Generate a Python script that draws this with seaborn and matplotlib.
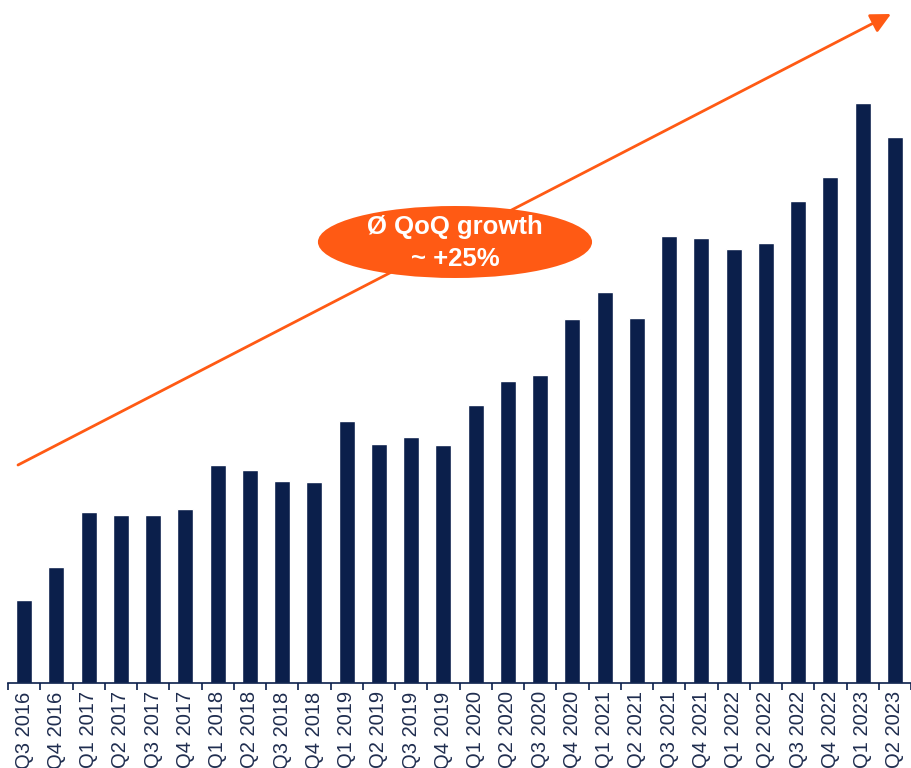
import matplotlib
matplotlib.use("Agg")
import matplotlib.pyplot as plt
from matplotlib.patches import Ellipse
import numpy as np
import pandas as pd
import seaborn as sns


# --------- Values --------- #
QUARTERS = ["Q3 2016", "Q4 2016",
            "Q1 2017", "Q2 2017", "Q3 2017", "Q4 2017",
            "Q1 2018", "Q2 2018", "Q3 2018", "Q4 2018",
            "Q1 2019", "Q2 2019", "Q3 2019", "Q4 2019",
            "Q1 2020", "Q2 2020", "Q3 2020", "Q4 2020",
            "Q1 2021", "Q2 2021", "Q3 2021", "Q4 2021",
            "Q1 2022", "Q2 2022", "Q3 2022", "Q4 2022",
            "Q1 2023", "Q2 2023"]
# relative volume (no axis in the original)
VALUES = [83, 116, 171, 168, 168, 174, 218, 213, 202, 201,
          262, 239, 246, 238, 278, 302, 308, 364, 391, 365,
          447, 445, 434, 440, 482, 506, 580, 546]

NAVY = "#0B1F4B"
ORANGE = "#FF5A14"

df = pd.DataFrame({"quarter": QUARTERS, "value": VALUES})

sns.set_style("white")
plt.rcParams["font.family"] = ["Liberation Sans", "DejaVu Sans"]

fig = plt.figure(figsize=(9.11, 7.68), dpi=100)
ax = fig.add_axes([8 / 911, 85 / 768, 1 - 8 / 911, 683 / 768])

sns.barplot(data=df, x="quarter", y="value", color=NAVY, width=0.5,
            saturation=1, ax=ax)

ax.set_xlim(-0.5, 27.5)
ax.set_ylim(0, 683)
ax.set_xlabel("")
ax.set_ylabel("")
ax.set_yticks([])

# labels at bar centres, small ticks between bars
ax.tick_params(axis="x", which="major", length=0, pad=6,
               labelsize=14.5, labelcolor="#1F2D4F", labelrotation=90)
ax.set_xticks(np.arange(len(QUARTERS) + 1) - 0.5, minor=True)
ax.tick_params(axis="x", which="minor", bottom=True, length=5, width=1.2,
               color=NAVY)
for lbl in ax.get_xticklabels():
    lbl.set_verticalalignment("top")

for side in ["top", "right", "left"]:
    ax.spines[side].set_visible(False)
ax.spines["bottom"].set_color(NAVY)
ax.spines["bottom"].set_linewidth(1.2)

# --------- Growth arrow + label --------- #
ax.annotate("", xy=(26.88, 669), xytext=(-0.19, 218),
            arrowprops=dict(arrowstyle="-|>,head_length=1.2,head_width=0.6",
                            color=ORANGE, lw=2.0, shrinkA=0, shrinkB=0),
            annotation_clip=False)

ax.add_patch(Ellipse((13.36, 441), width=8.5, height=72, facecolor=ORANGE,
                     edgecolor="none", zorder=5))
ax.text(13.36, 440, "Ø QoQ growth\n~ +25%", ha="center", va="center",
        color="white", fontsize=18.5, fontweight="bold", linespacing=1.4,
        zorder=6)

fig.savefig("out.png", dpi=100)
